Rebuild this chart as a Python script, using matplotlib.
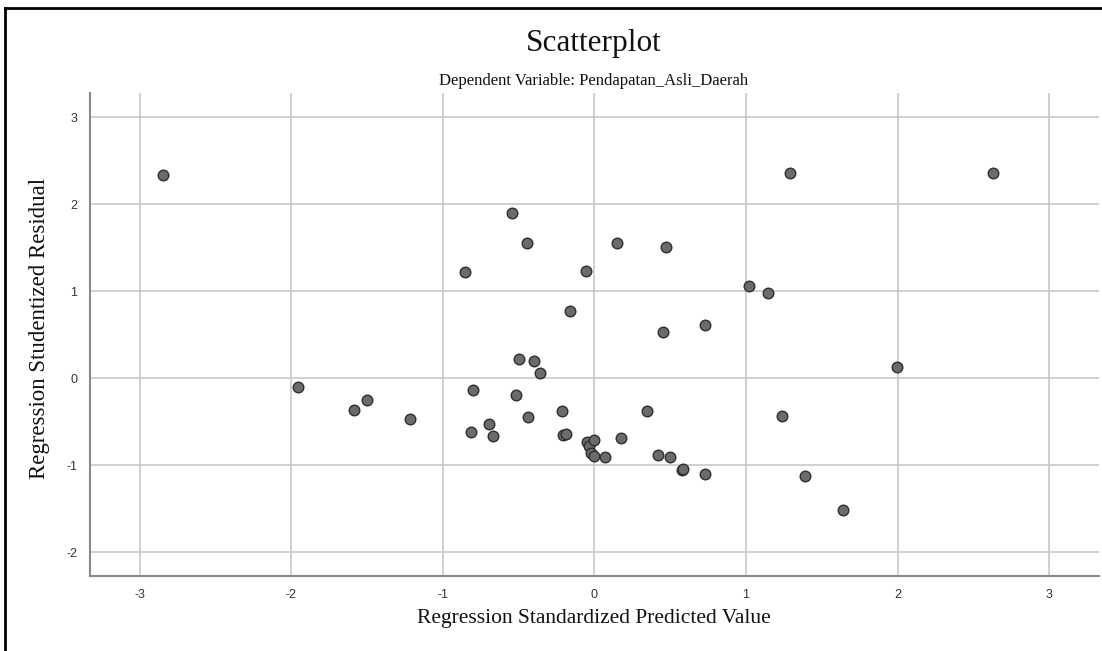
import matplotlib
matplotlib.use("Agg")
import matplotlib.pyplot as plt
from matplotlib.lines import Line2D

# Data
predicted = [-2.845, -1.952, -1.587, -1.499, -1.218, -0.855, -0.813, -0.798, -0.693, -0.666,
             -0.541, -0.518, -0.497, -0.444, -0.435, -0.400, -0.356, -0.210, -0.211, -0.187,
             -0.162, -0.057, -0.050, -0.033, -0.022, 0.000, -0.005, 0.072, 0.152, 0.176,
             0.346, 0.417, 0.453, 0.473, 0.499, 0.579, 0.586, 0.727, 0.728, 1.017,
             1.148, 1.238, 1.289, 1.392, 1.638, 1.995, 2.632]
residual = [2.337, -0.096, -0.364, -0.245, -0.464, 1.226, -0.615, -0.131, -0.528, -0.659,
            1.901, -0.192, 0.222, 1.553, -0.441, 0.202, 0.061, -0.655, -0.379, -0.643,
            0.769, 1.235, -0.732, -0.777, -0.861, -0.708, -0.895, -0.907, 1.557, -0.691,
            -0.379, -0.879, 0.535, 1.507, -0.909, -1.049, -1.040, 0.612, -1.102, 1.063,
            0.979, -0.433, 2.357, -1.118, -1.516, 0.126, 2.354]

x_ticks = [-3, -2, -1, 0, 1, 2, 3]
y_ticks = [-2, -1, 0, 1, 2, 3]

title = "Scatterplot"
subtitle = "Dependent Variable: Pendapatan_Asli_Daerah"
x_label = "Regression Standardized Predicted Value"
y_label = "Regression Studentized Residual"

W, H = 1102, 651
fig = plt.figure(figsize=(W / 100, H / 100), dpi=100)
fig.patch.set_facecolor("white")

left, right, top, bottom = 90, 1099, 93, 576
ax = fig.add_axes([left / W, 1 - bottom / H, (right - left) / W, (bottom - top) / H])

ax.scatter(predicted, residual, s=58, facecolor="#6b6b6b", edgecolor="#2e2e2e",
           linewidths=1.0, zorder=3)

ax.set_xlim(-3.327, 3.329)
ax.set_ylim(-2.27, 3.276)
ax.set_xticks(x_ticks)
ax.set_yticks(y_ticks)
ax.set_xticklabels([str(t) for t in x_ticks])
ax.set_yticklabels([str(t) for t in y_ticks])
ax.grid(True, color="#c8c8c8", linewidth=1.2, zorder=0)
ax.set_axisbelow(True)
ax.tick_params(length=0, pad=9, labelsize=9, labelcolor="#333333")
for lbl in ax.get_xticklabels() + ax.get_yticklabels():
    lbl.set_family("Liberation Sans")
for s in ["top", "right"]:
    ax.spines[s].set_visible(False)
for s in ["left", "bottom"]:
    ax.spines[s].set_color("#8a8a8a")
    ax.spines[s].set_linewidth(1.5)

serif = "Liberation Serif"
fig.text(594 / W, 1 - 43 / H, title, ha="center", va="center", fontsize=22.5,
         family=serif, color="#111111")
fig.text(594 / W, 1 - 81 / H, subtitle, ha="center", va="center", fontsize=12,
         family=serif, color="#111111")
fig.text(594 / W, 1 - 619 / H, x_label, ha="center", va="center", fontsize=15.5,
         family=serif, color="#111111")
fig.text(40 / W, 1 - 328 / H, y_label, ha="center", va="center", fontsize=16.5,
         family=serif, color="#111111", rotation=90)

# outer frame (top and left edges visible)
fig.add_artist(Line2D([5 / W, 5 / W], [0, 1 - 8 / H], transform=fig.transFigure,
                      color="black", linewidth=2))
fig.add_artist(Line2D([5 / W, 1], [1 - 8 / H, 1 - 8 / H], transform=fig.transFigure,
                      color="black", linewidth=2))

fig.savefig("out.png", dpi=100, facecolor="white")
